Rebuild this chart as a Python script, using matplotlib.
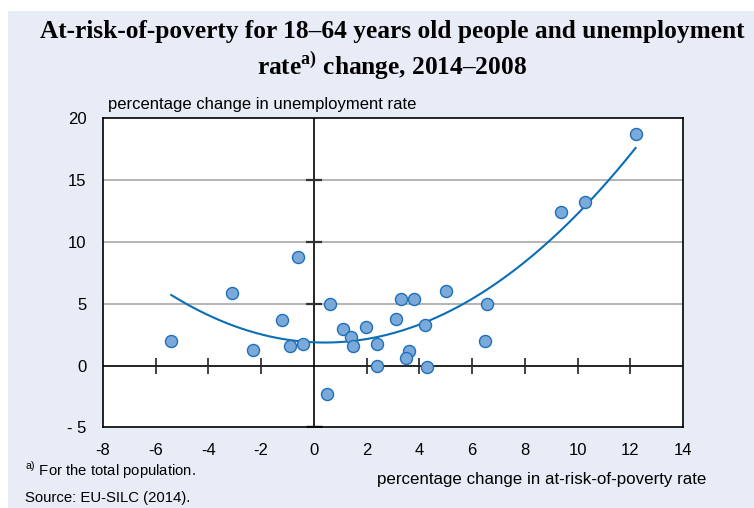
import numpy as np
import matplotlib
matplotlib.use("Agg")
import matplotlib.pyplot as plt
from matplotlib.patches import Rectangle

# ---- data ----
poverty_change = [-5.41, -3.11, -2.31, -1.21, -0.91, -0.60, -0.40, 0.60, 0.49, 1.10,
                  1.41, 1.50, 1.99, 2.39, 2.41, 3.10, 3.29, 3.79, 3.60, 3.49,
                  4.20, 4.30, 5.00, 6.49, 6.58, 9.39, 10.30, 12.20]
unemp_change = [1.97, 5.83, 1.25, 3.65, 1.54, 8.74, 1.73, 4.97, -2.34, 2.94,
                2.32, 1.54, 3.13, 1.76, -0.05, 3.75, 5.35, 5.35, 1.17, 0.57,
                3.24, -0.16, 6.04, 1.97, 4.97, 12.44, 13.25, 18.75]
x_ticks = [-8, -6, -4, -2, 0, 2, 4, 6, 8, 10, 12, 14]
y_ticks = [-5, 0, 5, 10, 15, 20]
y_tick_labels = ["- 5", "0", "5", "10", "15", "20"]

title_line1 = "At-risk-of-poverty for 18–64 years old people and unemployment"
title_line2 = r"rate$^{\mathbf{a)}}$ change, 2014–2008"
y_label = "percentage change in unemployment rate"
x_label = "percentage change in at-risk-of-poverty rate"
footnote = r"$^{\mathrm{a)}}$ For the total population."
source = "Source: EU-SILC (2014)."

plt.rcParams['mathtext.fontset'] = 'custom'
plt.rcParams['mathtext.bf'] = 'Liberation Serif:bold'
plt.rcParams['mathtext.rm'] = 'Liberation Sans'

W, H = 754, 508
fig = plt.figure(figsize=(W / 100, H / 100), dpi=100)
fig.patch.set_facecolor("white")
bg = "#E8ECF7"
fig.add_artist(Rectangle((8 / W, 0), 1, (H - 11) / H, transform=fig.transFigure,
                         facecolor=bg, edgecolor="none", zorder=0))

ax = fig.add_axes([103 / W, 1 - 427.3 / H, 580 / W, 309 / H])
ax.set_facecolor("white")
ax.set_xlim(-8, 14)
ax.set_ylim(-5, 20)

# grid lines
for yv in y_ticks:
    if yv not in (-5, 0, 20):
        ax.axhline(yv, color="#A8A8A8", lw=1.2, zorder=1)
ax.axhline(0, color="black", lw=1.2, zorder=2)
ax.axvline(0, color="black", lw=1.2, zorder=2)

# crossing tick marks on the zero lines
inner_x = [v for v in x_ticks if v not in (x_ticks[0], x_ticks[-1], 0)]
inner_y = [v for v in y_ticks if v not in (y_ticks[0], y_ticks[-1], 0)]
ax.plot(inner_x, [0] * len(inner_x), ls="none", marker="|", ms=12, mew=1.2,
        color="#222222", zorder=2)
ax.plot([0] * len(inner_y), inner_y, ls="none", marker="_", ms=12, mew=1.6,
        color="#333333", zorder=2)
ax.plot([0], [y_ticks[0]], ls="none", marker="_", ms=12, mew=2.5,
        color="#333333", zorder=2)

# trend (quadratic fit)
coef = np.polyfit(poverty_change, unemp_change, 2)
xs = np.linspace(min(poverty_change), max(poverty_change), 200)
ax.plot(xs, np.polyval(coef, xs), color="#0A6EB4", lw=1.5, zorder=3)

ax.scatter(poverty_change, unemp_change, s=75, facecolor="#7BA9DA",
           edgecolor="#1E6FBA", linewidth=1.0, zorder=4)

for s in ax.spines.values():
    s.set_color("black")
    s.set_linewidth(1.2)

ax.set_xticks(x_ticks)
ax.set_xticklabels([str(v) for v in x_ticks])
ax.set_yticks(y_ticks)
ax.set_yticklabels(y_tick_labels)
ax.tick_params(length=0, labelsize=12, colors="black")
ax.tick_params(axis="x", pad=11)
ax.tick_params(axis="y", pad=12)
for lab in ax.get_xticklabels() + ax.get_yticklabels():
    lab.set_fontfamily("Liberation Sans")

fig.text(392 / W, 1 - 38 / H, title_line1, ha="center", va="baseline",
         fontsize=18.3, fontweight="bold", family="Liberation Serif")
fig.text(392 / W, 1 - 74 / H, title_line2, ha="center", va="baseline",
         fontsize=18.3, fontweight="bold", family="Liberation Serif")

fig.text(108 / W, 1 - 109 / H, y_label, ha="left", va="baseline",
         fontsize=12, family="Liberation Sans")
fig.text(706 / W, 1 - 484 / H, x_label, ha="right", va="baseline",
         fontsize=12.2, family="Liberation Sans")
fig.text(25 / W, 1 - 476 / H, footnote, ha="left", va="baseline",
         fontsize=10.75, family="Liberation Sans")
fig.text(25 / W, 1 - 502 / H, source, ha="left", va="baseline",
         fontsize=10.75, family="Liberation Sans")

fig.savefig("out.png", dpi=100, facecolor=fig.get_facecolor())
